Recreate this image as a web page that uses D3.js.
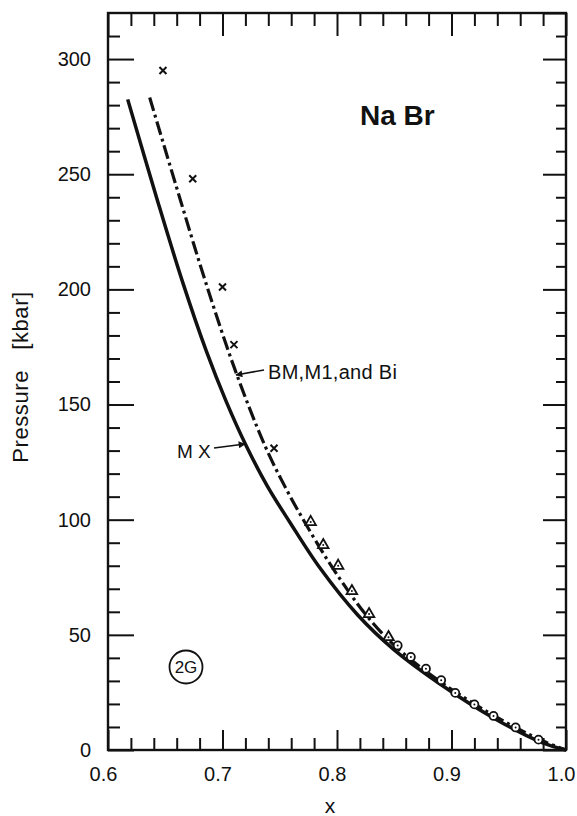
<!DOCTYPE html>
<html>
<head>
<meta charset="utf-8">
<script src="https://cdn.jsdelivr.net/npm/d3@7"></script>
<style>
  html, body { margin: 0; padding: 0; background: #fff; }
  svg { display: block; }
  text { font-family: "Liberation Sans", "DejaVu Sans", sans-serif; fill: #111; }
</style>
</head>
<body>
<svg id="chart" width="577" height="816"></svg>
<script>
// NaBr compression: pressure versus relative volume x

// MX equation of state (solid curve)
const mxX = [0.6172, 0.6433, 0.6649, 0.6859, 0.7031, 0.7207, 0.7389, 0.7588, 0.785, 0.8181, 0.8494, 0.889, 0.9382, 0.9791, 1.0];
const mxP = [282.5, 238.4, 203.6, 173.2, 151.5, 132.1, 114.8, 98.9, 79.1, 58.6, 43.7, 29.0, 13.5, 3.2, 0];

// BM, M1 and Bi equations of state (dash-dot curve)
const bmX = [0.6364, 0.6634, 0.6849, 0.7113, 0.737, 0.754, 0.7717, 0.796, 0.8253, 0.851, 0.8896, 0.9375, 0.9791, 1.0];
const bmP = [283.3, 238.5, 203.7, 164.6, 132.2, 114.9, 99.0, 79.2, 58.7, 45.0, 29.9, 14.8, 4.1, 0];

// Measured points: crosses, triangles, circles
const crossX = [0.648, 0.674, 0.700, 0.710, 0.745];
const crossP = [295, 248, 201, 176, 131];
const triX = [0.777, 0.788, 0.801, 0.813, 0.828, 0.845];
const triP = [99, 89, 80, 69, 59, 49];
const circX = [0.853, 0.8645, 0.8777, 0.891, 0.9033, 0.920, 0.9367, 0.956, 0.976];
const circP = [45.4, 40.4, 35.3, 30.3, 24.8, 19.8, 14.8, 9.8, 4.5];

// Axis ticks
const xMajor = [0.6, 0.7, 0.8, 0.9, 1.0];
const xMajorLabels = ["0.6", "0.7", "0.8", "0.9", "1.0"];
const xMinor = [0.62, 0.64, 0.66, 0.68, 0.72, 0.74, 0.76, 0.78, 0.82, 0.84, 0.86, 0.88, 0.92, 0.94, 0.96, 0.98];
const yMajor = [0, 50, 100, 150, 200, 250, 300];
const yMinor = [10, 20, 30, 40, 60, 70, 80, 90, 110, 120, 130, 140, 160, 170, 180, 190, 210, 220, 230, 240, 260, 270, 280, 290, 310];

const svg = d3.select("#chart");
const plotL = 108, plotR = 566, plotT = 13, plotB = 750;

const x = d3.scaleLinear().domain([0.6, 1.0]).range([plotL, plotR]);
const y = d3.scaleLinear().domain([0, 320]).range([plotB, plotT]);

const ink = "#111";

// frame
svg.append("rect")
  .attr("x", plotL).attr("y", plotT)
  .attr("width", plotR - plotL).attr("height", plotB - plotT)
  .attr("fill", "none").attr("stroke", ink).attr("stroke-width", 2.4);

function styleAxis(g) {
  g.select(".domain").remove();
  g.selectAll(".tick line").attr("stroke", ink).attr("stroke-width", 2);
}

// left axis
svg.append("g").attr("transform", `translate(${plotL},0)`)
  .call(d3.axisLeft(y).tickValues(yMinor).tickSizeInner(-12).tickSizeOuter(0).tickFormat(""))
  .call(styleAxis);
svg.append("g").attr("transform", `translate(${plotL},0)`)
  .call(d3.axisLeft(y).tickValues(yMajor).tickSizeInner(-26).tickSizeOuter(0).tickPadding(17).tickFormat(d3.format("d")))
  .call(styleAxis)
  .call(g => g.selectAll("text").style("font-size", "20px").attr("fill", ink));

// right axis
svg.append("g").attr("transform", `translate(${plotR},0)`)
  .call(d3.axisRight(y).tickValues(yMinor).tickSizeInner(-10).tickSizeOuter(0).tickFormat(""))
  .call(styleAxis);
svg.append("g").attr("transform", `translate(${plotR},0)`)
  .call(d3.axisRight(y).tickValues(yMajor.concat([320])).tickSizeInner(-23).tickSizeOuter(0).tickFormat(""))
  .call(styleAxis);

// bottom axis
svg.append("g").attr("transform", `translate(0,${plotB})`)
  .call(d3.axisBottom(x).tickValues(xMinor).tickSizeInner(-12).tickSizeOuter(0).tickFormat(""))
  .call(styleAxis);
svg.append("g").attr("transform", `translate(0,${plotB})`)
  .call(d3.axisBottom(x).tickValues(xMajor).tickSizeInner(-20).tickSizeOuter(0).tickPadding(17)
    .tickFormat((d, i) => xMajorLabels[i]))
  .call(styleAxis)
  .call(g => g.selectAll("text").style("font-size", "20px").attr("fill", ink).attr("dx", -5));

// top axis
svg.append("g").attr("transform", `translate(0,${plotT})`)
  .call(d3.axisTop(x).tickValues(xMinor).tickSizeInner(-13).tickSizeOuter(0).tickFormat(""))
  .call(styleAxis);
svg.append("g").attr("transform", `translate(0,${plotT})`)
  .call(d3.axisTop(x).tickValues(xMajor).tickSizeInner(-23).tickSizeOuter(0).tickFormat(""))
  .call(styleAxis);

// axis titles
svg.append("text")
  .attr("transform", `translate(28,377) rotate(-90)`)
  .attr("text-anchor", "middle")
  .attr("xml:space", "preserve")
  .style("white-space", "pre")
  .style("font-size", "22px")
  .style("letter-spacing", "0.6px")
  .text("Pressure   [kbar]");
svg.append("text")
  .attr("x", 330).attr("y", 813)
  .attr("text-anchor", "middle")
  .style("font-size", "21px")
  .text("x");

// curves
const line = d3.line().curve(d3.curveCatmullRom.alpha(0.5));
const mxPts = mxX.map((v, i) => [x(v), y(mxP[i])]);
const bmPts = bmX.map((v, i) => [x(v), y(bmP[i])]);

svg.append("path")
  .attr("d", line(bmPts))
  .attr("fill", "none").attr("stroke", ink).attr("stroke-width", 3.2)
  .attr("stroke-dasharray", "14,4,3,4");

svg.append("path")
  .attr("d", line(mxPts))
  .attr("fill", "none").attr("stroke", ink).attr("stroke-width", 3.5);

// crosses
const cr = 3.5;
svg.append("g").selectAll("path")
  .data(crossX.map((v, i) => [x(v), y(crossP[i])]))
  .join("path")
  .attr("d", d => `M${d[0]-cr},${d[1]-cr}L${d[0]+cr},${d[1]+cr}M${d[0]-cr},${d[1]+cr}L${d[0]+cr},${d[1]-cr}`)
  .attr("stroke", ink).attr("stroke-width", 2).attr("fill", "none");

// triangles with centre dot
const tri = d3.symbol().type(d3.symbolTriangle).size(48);
const triG = svg.append("g").selectAll("g")
  .data(triX.map((v, i) => [x(v), y(triP[i])]))
  .join("g")
  .attr("transform", d => `translate(${d[0]},${d[1]})`);
triG.append("path").attr("d", tri).attr("fill", "#fff").attr("stroke", ink).attr("stroke-width", 1.8);
triG.append("circle").attr("r", 1).attr("fill", ink);

// circles with centre dot
const circG = svg.append("g").selectAll("g")
  .data(circX.map((v, i) => [x(v), y(circP[i])]))
  .join("g")
  .attr("transform", d => `translate(${d[0]},${d[1]})`);
circG.append("circle").attr("r", 4).attr("fill", "#fff").attr("stroke", ink).attr("stroke-width", 1.8);
circG.append("circle").attr("r", 1).attr("fill", ink);

// curve labels with arrows
svg.append("defs").append("marker")
  .attr("id", "head").attr("viewBox", "0 0 10 10")
  .attr("refX", 9).attr("refY", 5)
  .attr("markerWidth", 10).attr("markerHeight", 7)
  .attr("markerUnits", "userSpaceOnUse")
  .attr("orient", "auto")
  .append("path").attr("d", "M0,0L10,5L0,10Z").attr("fill", ink);

svg.append("line")
  .attr("x1", 264).attr("y1", 370).attr("x2", 236).attr("y2", 375)
  .attr("stroke", ink).attr("stroke-width", 1.6).attr("marker-end", "url(#head)");
svg.append("text")
  .attr("x", 268).attr("y", 379)
  .style("font-size", "20px")
  .style("letter-spacing", "0.3px")
  .text("BM,M1,and Bi");

svg.append("line")
  .attr("x1", 214).attr("y1", 448).attr("x2", 245).attr("y2", 444)
  .attr("stroke", ink).attr("stroke-width", 1.6).attr("marker-end", "url(#head)");
svg.append("text")
  .attr("x", 177).attr("y", 458)
  .style("font-size", "19px")
  .text("M X");

// compound name
svg.append("text")
  .attr("x", 360).attr("y", 125)
  .style("font-size", "28px").style("font-weight", "bold")
  .text("Na Br");

// figure tag
svg.append("circle")
  .attr("cx", 186).attr("cy", 667).attr("r", 16.5)
  .attr("fill", "none").attr("stroke", ink).attr("stroke-width", 1.8);
svg.append("text")
  .attr("x", 186).attr("y", 673)
  .attr("text-anchor", "middle")
  .style("font-size", "17px")
  .text("2G");
</script>
</body>
</html>
